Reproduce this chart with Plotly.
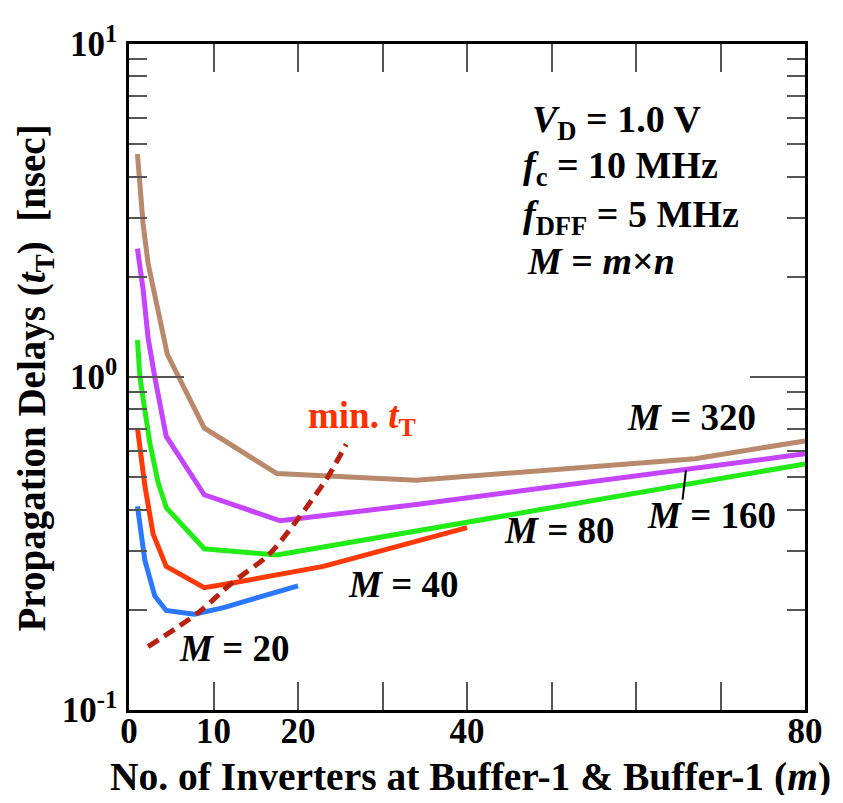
import plotly.graph_objects as go

# ---------------- data ----------------
m_M20 = [1, 1.49, 1.87, 3.05, 4.4, 7.7, 11.2, 20]
t_M20 = [0.409, 0.338, 0.282, 0.220, 0.199, 0.194, 0.203, 0.236]

m_M40 = [1, 1.49, 1.87, 2.85, 4.4, 8.9, 12.4, 23, 40]
t_M40 = [0.703, 0.555, 0.473, 0.338, 0.270, 0.233, 0.241, 0.270, 0.353]

m_M80 = [1, 1.29, 1.87, 2.46, 3.43, 4.42, 8.9, 17.5, 80]
t_M80 = [1.29, 1.00, 0.797, 0.635, 0.484, 0.405, 0.305, 0.292, 0.548]

m_M160 = [1, 1.67, 2.26, 3.05, 4.4, 8.9, 17.9, 34, 80]
t_M160 = [2.43, 1.83, 1.31, 1.00, 0.664, 0.443, 0.370, 0.414, 0.588]

m_M320 = [1, 1.67, 2.26, 3.05, 3.83, 4.53, 8.9, 17.5, 34, 67, 80]
t_M320 = [4.67, 2.88, 2.19, 1.75, 1.43, 1.17, 0.703, 0.513, 0.490, 0.568, 0.643]

m_min = [2.26, 8.3, 12.2, 16.5, 20, 23.5, 25.7]
t_min = [0.155, 0.197, 0.241, 0.292, 0.375, 0.50, 0.628]

x_tickvals = [0, 10, 20, 30, 40, 50, 60, 70, 80]
x_ticktext = ["0", "10", "20", "", "40", "", "", "", "80"]
y_tickvals = [0.1, 1, 10]
y_ticktext = ["10<sup>-1</sup>", "10<sup>0</sup>", "10<sup>1</sup>"]
y_minor = [0.2, 0.3, 0.4, 0.5, 0.6, 0.7, 0.8, 0.9, 2, 3, 4, 5, 6, 7, 8, 9]

# ---------------- styling ----------------
FONT = "Liberation Serif"
OFF = 8                      # page body margin of the html page
W, H = 843 - 2 * OFF, 803 - 2 * OFF
# plot area in window pixels (reference picture)
L, R, T, B = 129, 812, 29, 710


def px(xp):
    return (xp - L) / (R - L)


def py(yp):
    return (B - yp) / (B - T)


fig = go.Figure()

series = [
    (m_M20, t_M20, "#2a78ff"),
    (m_M40, t_M40, "#ff3a08"),
    (m_M80, t_M80, "#22ec18"),
    (m_M160, t_M160, "#c444ff"),
    (m_M320, t_M320, "#b8896c"),
]
for xs, ys, col in series:
    fig.add_trace(go.Scatter(x=xs, y=ys, mode="lines",
                             line=dict(color=col, width=5),
                             showlegend=False, hoverinfo="skip"))

fig.add_trace(go.Scatter(x=m_min, y=t_min, mode="lines",
                         line=dict(color="#b8200f", width=5, dash="12px,7px",
                                   shape="spline", smoothing=0.8),
                         showlegend=False, hoverinfo="skip"))

tickfont = dict(family=FONT, size=35, color="black", weight="bold")

fig.update_xaxes(range=[0, 80], tickmode="array", tickvals=x_tickvals,
                 ticktext=x_ticktext, ticks="inside", ticklen=28,
                 tickwidth=2, tickcolor="#555555", showline=True,
                 linecolor="black", linewidth=2.5, mirror="ticks",
                 showgrid=False, zeroline=False, tickfont=tickfont,
                 ticklabelstandoff=-12, ticklabeloverflow="allow")

fig.update_yaxes(type="log", range=[-1, 1], tickmode="array",
                 tickvals=y_tickvals, ticktext=y_ticktext, ticks="inside",
                 ticklen=55, tickwidth=2, tickcolor="#555555", showline=True,
                 linecolor="black", linewidth=2.5, mirror="ticks",
                 showgrid=False, zeroline=False, tickfont=tickfont,
                 ticklabelstandoff=2, ticklabeloverflow="allow",
                 minor=dict(tickmode="array", tickvals=y_minor,
                            ticks="inside", ticklen=18, tickwidth=2,
                            tickcolor="#555555", showgrid=False))


def label(text, xl, yc, color="black", size=37):
    fig.add_annotation(text="<b>" + text + "</b>", x=px(xl), y=py(yc),
                       xref="paper", yref="paper", xanchor="left",
                       yanchor="middle", showarrow=False,
                       font=dict(family=FONT, size=size, color=color))


label("<i>M</i> = 320", 630, 411)
label("<i>M</i> = 160", 650, 511)
label("<i>M</i> = 80", 506, 526)
label("<i>M</i> = 40", 348, 582)
label("<i>M</i> = 20", 178, 647)
label("min. <i>t</i><sub>T</sub>", 308, 412, color="#ff3000")

label("<i>V</i><sub>D</sub> = 1.0 V", 534, 109, size=38)
label("<i>f</i><sub>c</sub> = 10 MHz", 525, 156, size=38)
label("<i>f</i><sub>DFF</sub> = 5 MHz", 525, 206, size=38)
label("<i>M</i> = <i>m</i>×<i>n</i>", 529, 251, size=38)

# leader line for M = 160
fig.add_shape(type="line", xref="paper", yref="paper",
              x0=px(691.7), y0=py(465), x1=px(688.3), y1=py(495),
              line=dict(color="black", width=2))

# axis titles
fig.add_annotation(text="<b>Propagation Delays (<i>t</i><sub>T</sub>)\u00a0\u00a0[nsec]</b>",
                   x=px(34), y=py(370), xref="paper", yref="paper",
                   xanchor="center", yanchor="middle", textangle=-90,
                   showarrow=False, font=dict(family=FONT, size=39, color="black"))
fig.add_annotation(text="<b>No. of Inverters at Buffer-1 &amp; Buffer-1 (<i>m</i>)</b>",
                   x=px(474), y=py(778), xref="paper", yref="paper",
                   xanchor="center", yanchor="middle", showarrow=False,
                   font=dict(family=FONT, size=39.5, color="black"))

fig.update_layout(width=W, height=H,
                  margin=dict(l=L - OFF, r=W - (R - OFF), t=T - OFF,
                              b=H - (B - OFF)),
                  plot_bgcolor="white", paper_bgcolor="white",
                  font=dict(family=FONT))

fig.write_html("out.html")
